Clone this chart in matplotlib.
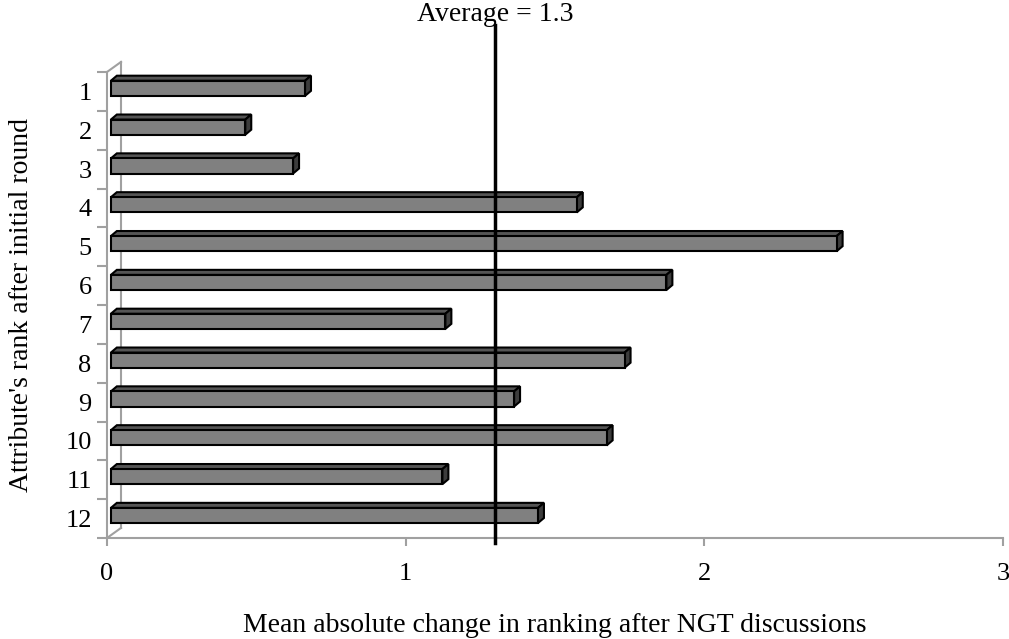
import matplotlib
matplotlib.use("Agg")
import matplotlib.pyplot as plt
from matplotlib.patches import Polygon

plt.rcParams['font.family'] = ['Liberation Serif', 'DejaVu Serif']

ranks = [str(i) for i in range(1, 13)]
changes = [0.65, 0.45, 0.61, 1.56, 2.43, 1.86, 1.12, 1.72, 1.35, 1.66, 1.11, 1.43]
average = 1.3
xticks = [0, 1, 2, 3]

W, H = 1009, 639
fig = plt.figure(figsize=(W / 100, H / 100), dpi=100)
ax = fig.add_axes([107 / W, 1 - 538 / H, (1003 - 107) / W, (538 - 72) / H])
ax.set_xlim(0, 3)
ax.set_ylim(12.5, 0.5)

grey = '#a0a0a0'
# 3d offsets in data units
wall_dx, wall_dy = 0.047, 0.26
front_dx, front_dy = 0.013, 0.08
depth_dx, depth_dy = 0.02, 0.13
h = 0.39

# walls
ax.plot([wall_dx, wall_dx], [0.5 - wall_dy, 12.5 - wall_dy], color=grey, lw=1.5, clip_on=False)
ax.plot([0, wall_dx], [0.5, 0.5 - wall_dy], color=grey, lw=1.5, clip_on=False)
ax.plot([0, wall_dx], [12.5, 12.5 - wall_dy], color=grey, lw=1.5, clip_on=False)

for i, v in enumerate(changes):
    yc = i + 1 - front_dy
    x0, x1 = front_dx, front_dx + v
    top, bot = yc - h / 2, yc + h / 2
    front = Polygon([(x0, top), (x1, top), (x1, bot), (x0, bot)], closed=True,
                    facecolor='#808080', edgecolor='black', lw=1.5, zorder=3)
    lid = Polygon([(x0, top), (x1, top), (x1 + depth_dx, top - depth_dy), (x0 + depth_dx, top - depth_dy)],
                  closed=True, facecolor='#555555', edgecolor='black', lw=1.5, zorder=3)
    side = Polygon([(x1, top), (x1 + depth_dx, top - depth_dy), (x1 + depth_dx, bot - depth_dy), (x1, bot)],
                   closed=True, facecolor='#3c3c3c', edgecolor='black', lw=1.5, zorder=3)
    for p in (lid, side, front):
        p.set_clip_on(False)
        ax.add_patch(p)

ax.plot([average, average], [12.63, -0.7], color='black', lw=2.5, zorder=5, clip_on=False)
fig.text(495 / W, 1 - 21 / H, f"Average = {average}", ha='center', va='baseline', fontsize=20)

for s in ['top', 'right']:
    ax.spines[s].set_visible(False)
for s in ['left', 'bottom']:
    ax.spines[s].set_color(grey)
    ax.spines[s].set_linewidth(1.5)

ax.set_xticks(xticks)
ax.set_xticklabels([str(t) for t in xticks], fontsize=19)
ax.tick_params(axis='x', length=6, width=1.5, color=grey, pad=12)

ax.set_yticks(range(1, 13))
ax.set_yticklabels(ranks, fontsize=19)
ax.set_yticks([i + 0.5 for i in range(0, 13)], minor=True)
ax.tick_params(axis='y', which='major', length=0, pad=11)
ax.tick_params(axis='y', which='minor', length=7, width=1.5, color=grey)

fig.text(555 / W, 1 - 625 / H, "Mean absolute change in ranking after NGT discussions",
         ha='center', va='center', fontsize=20)
fig.text(22 / W, 1 - 305 / H, "Attribute's rank after initial round",
         ha='center', va='center', rotation=90, fontsize=20)

fig.savefig("out.png", dpi=100)
